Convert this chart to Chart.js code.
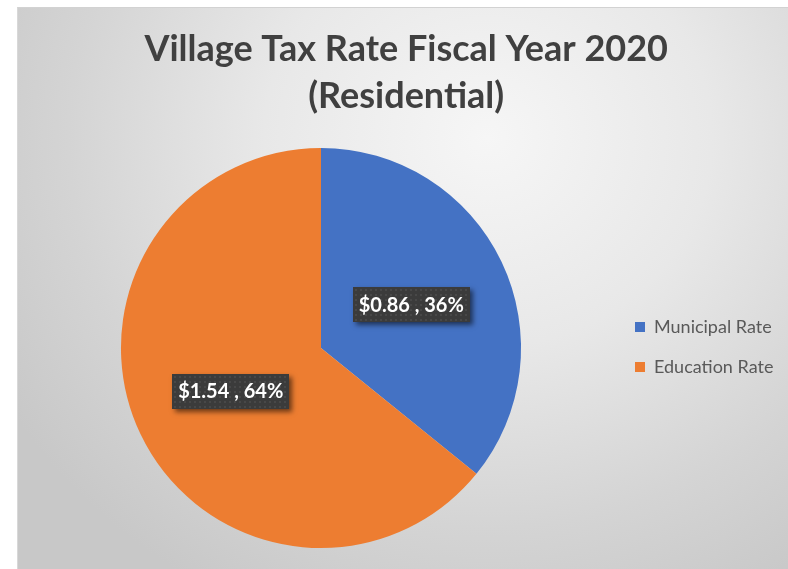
<!DOCTYPE html>
<html>
<head>
<meta charset="utf-8">
<script src="https://cdn.jsdelivr.net/npm/chart.js@4.4.1/dist/chart.umd.min.js"></script>
<style>
   html, body { margin: 0; padding: 0; background: #fff; }
   body { width: 788px; height: 569px; position: relative; overflow: hidden; }
   #frame {
      position: absolute; left: 17px; top: 7px; width: 790px; height: 580px;
      border-top: 1px solid #d2d2d2; border-left: 1px solid #d8d8d8;
      background: radial-gradient(ellipse 560px 520px at 470px 130px, #f6f6f6 0%, #e8e8e8 40%, #d4d4d4 75%, #c8c8c8 100%);
   }
   #wrap { position: absolute; left: 0; top: 0; width: 788px; height: 569px; }
</style>
</head>
<body>
<div id="frame"></div>
<div id="wrap"><canvas id="taxChart"></canvas></div>
<script>
const categories = ["Municipal Rate", "Education Rate"];
const rates = [0.86, 1.54];
const sliceColors = ["#4472C4", "#ED7D31"];
const titleLines = ["Village Tax Rate Fiscal Year 2020", "(Residential)"];

const FONT = "Lato, 'Open Sans', sans-serif";
const LEGEND_FONT_SIZE = 18;
const LEGEND_BOX = 10;
const LEGEND_PAD = 22;

// legend width is measured up front so the pie lands where the reference has it
function legendWidth() {
   const c = document.createElement("canvas").getContext("2d");
   c.font = `${LEGEND_FONT_SIZE}px ${FONT}`;
   const maxText = Math.max(...categories.map(t => c.measureText(t).width));
   return LEGEND_PAD + LEGEND_BOX + LEGEND_FONT_SIZE / 2 + maxText + 10;
}

const labelBoxes = {
   id: "labelBoxes",
   afterDatasetsDraw(chart) {
      const ctx = chart.ctx;
      const meta = chart.getDatasetMeta(0);
      const total = rates.reduce((a, b) => a + b, 0);
      ctx.save();
      ctx.font = `bold 20px ${FONT}`;
      meta.data.forEach((arc, i) => {
         const p = arc.tooltipPosition();
         const text = `$${rates[i].toFixed(2)} , ${Math.round(rates[i] / total * 100)}%`;
         const w = Math.round(ctx.measureText(text).width + 12);
         const h = 35;
         const x = Math.round(p.x - w / 2), y = Math.round(p.y - h / 2);
         ctx.shadowColor = "rgba(0,0,0,0.55)";
         ctx.shadowBlur = 5;
         ctx.shadowOffsetX = 3;
         ctx.shadowOffsetY = 3;
         ctx.fillStyle = "#3b3b3b";
         ctx.fillRect(x, y, w, h);
         ctx.shadowColor = "transparent";
         ctx.fillStyle = "rgba(255,255,255,0.07)";
         for (let dx = 2; dx < w - 2; dx += 5) {
            for (let dy = 2; dy < h - 2; dy += 5) ctx.fillRect(x + dx, y + dy, 2, 2);
         }
         ctx.fillStyle = "#ffffff";
         ctx.textAlign = "center";
         ctx.textBaseline = "middle";
         ctx.fillText(text, p.x, p.y + 1);
      });
      ctx.restore();
   },
};

const pieCenterX = 321;
const legendLeft = 635 - LEGEND_PAD;
const padRight = 788 - legendLeft - legendWidth();

new Chart(document.getElementById("taxChart"), {
   type: "pie",
   data: {
      labels: categories,
      datasets: [{
         data: rates,
         backgroundColor: sliceColors,
         borderWidth: 0,
      }],
   },
   options: {
      responsive: true,
      maintainAspectRatio: false,
      animation: false,
      layout: {
         padding: { left: 2 * pieCenterX - legendLeft, right: padRight, top: 0, bottom: 21 },
      },
      plugins: {
         tooltip: { enabled: false },
         title: {
            display: true,
            text: titleLines,
            color: "#404040",
            font: { family: FONT, size: 36, weight: "bold", lineHeight: 1.305 },
            padding: { top: 26, bottom: 28 },
         },
         legend: {
            position: "right",
            align: "center",
            // empty legend title only pushes the two entries down to the pie's middle
            title: { display: true, text: " ", font: { size: 12, lineHeight: 1.2 }, padding: { top: 131.6, bottom: 0 } },
            labels: {
               boxWidth: LEGEND_BOX,
               boxHeight: LEGEND_BOX,
               padding: LEGEND_PAD,
               color: "#595959",
               font: { family: FONT, size: LEGEND_FONT_SIZE },
            },
         },
      },
   },
   plugins: [labelBoxes],
});
</script>
</body>
</html>
